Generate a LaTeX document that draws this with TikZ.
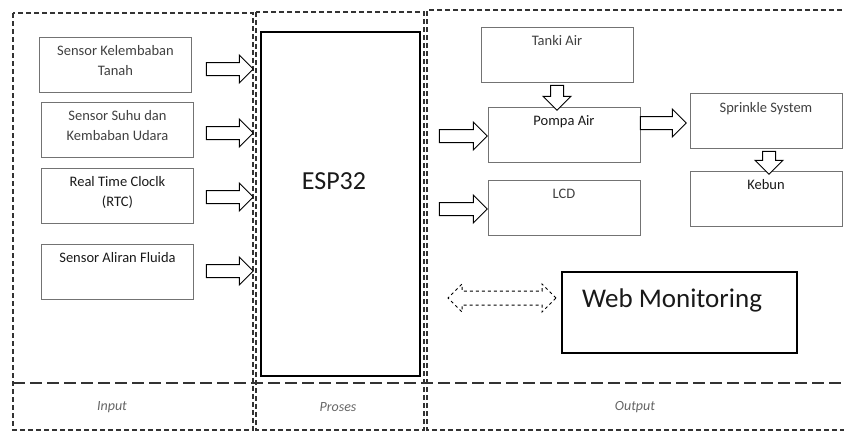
\documentclass[tikz,border=0pt]{standalone}
\usepackage{fontspec}
\setmainfont{Carlito}
\usetikzlibrary{shapes.arrows}
\tikzset{
  frame/.style={line width=1.3pt, black!80, dash pattern=on 5pt off 3pt},
  divider/.style={line width=1.6pt, black!80, dash pattern=on 12pt off 5pt},
  box/.style={draw=black!55, line width=1pt, minimum width=152pt, minimum height=55pt, inner sep=0pt},
  boxtext/.style={text=black!75, font=\fontsize{14.5}{20}\selectfont, align=center, inner sep=0pt, yshift=-9pt},
  bigtext/.style={font=\fontsize{27}{30}\selectfont, text=black!90},
  parttext/.style={text=black!60, font=\fontsize{14}{16}\selectfont\itshape},
  rarrow/.style={single arrow, draw, fill=white, line width=1pt, minimum height=47pt, minimum width=27pt, single arrow head extend=7.5pt, inner sep=6pt},
  darrow/.style={rarrow, rotate=-90},
}

\begin{document}
\begin{tikzpicture}[x=1pt, y=-1pt]
  \useasboundingbox (0,0) rectangle (844,432);

  %%%%% FRAMES %%%%%
  \draw[frame] (13,13) rectangle (253,430);
  \draw[frame] (256,12) rectangle (424,430);
  \draw[frame] (850,10) -- (427,10) -- (427,430) -- (850,430);
  \draw[divider] (13,383) -- (850,383);

  \node[parttext] (input) at (112,407) {Input};
  \node[parttext] (proses) at (338,407) {Proses};
  \node[parttext] (output) at (635,407) {Output};

  %%%%% INPUT %%%%%
  \node[box, label={[boxtext, anchor=north]north:Sensor Kelembaban\\Tanah}] (kelembaban) at (115.5,64.5) {};
  \node[box, label={[boxtext, anchor=north]north:Sensor Suhu dan\\Kembaban Udara}] (suhu) at (117.5,129.5) {};
  \node[box, label={[boxtext, anchor=north, text=black!90]north:Real Time Cloclk\\(RTC)}] (rtc) at (117.5,195.5) {};
  \node[box, label={[boxtext, anchor=north, text=black!90]north:Sensor Aliran Fluida}] (fluida) at (117.5,271.5) {};

  \node[rarrow] (a1) at (226.5,69) {};
  \node[rarrow] (a2) at (226.5,133) {};
  \node[rarrow] (a3) at (226.5,197) {};
  \node[rarrow] (a4) at (226.5,271) {};

  %%%%% PROSES %%%%%
  \node[draw, line width=2pt, minimum width=159pt, minimum height=344pt] (esp) at (340.5,204) {};
  \node[bigtext, font=\fontsize{26}{30}\selectfont] (esplabel) at (334,181) {ESP32};

  %%%%% OUTPUT %%%%%
  \node[box, label={[boxtext, anchor=north]north:Tanki Air}] (tanki) at (557,54.5) {};
  \node[box, label={[boxtext, anchor=north, text=black!90]north:Pompa Air}] (pompa) at (564,134.5) {};
  \node[box, label={[boxtext, anchor=north]north:LCD}] (lcd) at (564,208) {};
  \node[box, label={[boxtext, anchor=north]north:Sprinkle System}] (sprinkle) at (766,121) {};
  \node[box, label={[boxtext, anchor=north, text=black!90]north:Kebun}] (kebun) at (766,198.5) {};

  \node[darrow, minimum height=25pt] (d1) at (557,94.5) {};
  \node[darrow, minimum height=23pt] (d2) at (769,159.5) {};
  \node[rarrow, minimum height=48pt] (a5) at (460,136) {};
  \node[rarrow, minimum height=48pt] (a6) at (460,209) {};
  \node[rarrow, minimum height=46pt] (a7) at (660,123) {};

  \node[double arrow, draw, dashed, line width=1pt, minimum height=108pt, minimum width=27pt, double arrow head extend=7pt, inner sep=6.5pt] (web arrow) at (502,298) {};
  \node[draw, line width=1.5pt, minimum width=235pt, minimum height=81pt] (web) at (679.5,312.5) {};
  \node[bigtext] (weblabel) at (672,300) {Web Monitoring};
\end{tikzpicture}
\end{document}
